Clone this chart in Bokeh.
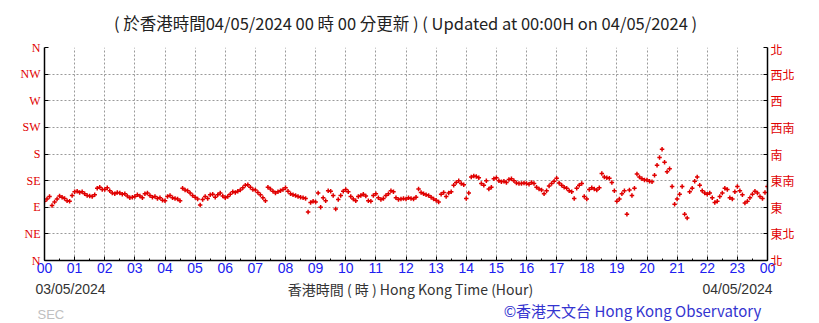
from bokeh.plotting import figure
from bokeh.models import Range1d, LinearAxis, FixedTicker, Label
from bokeh.layouts import column
from bokeh.embed import file_html
from bokeh.resources import INLINE

# wind direction (degrees), 5-minute readings, one list per hour
h00 = [100, 104, 108, 93, 99, 104, 109, 107, 105, 101, 100, 110]
h01 = [116, 117, 115, 116, 113, 110, 109, 108, 111, 122, 124, 120]
h02 = [120, 123, 118, 114, 113, 115, 114, 112, 113, 109, 106, 107]
h03 = [108, 111, 109, 106, 113, 114, 110, 107, 108, 105, 106, 102]
h04 = [101, 108, 110, 106, 105, 104, 101, 122, 119, 118, 114, 110]
h05 = [107, 104, 94, 103, 108, 105, 111, 112, 107, 111, 114, 109]
h06 = [106, 108, 112, 116, 115, 117, 119, 123, 127, 128, 124, 120]
h07 = [119, 115, 111, 106, 101, 124, 121, 117, 114, 116, 118, 120]
h08 = [123, 117, 113, 111, 110, 108, 107, 106, 105, 82, 98, 100]
h09 = [99, 114, 90, 106, 101, 118, 117, 110, 87, 103, 110, 117]
h10 = [120, 116, 108, 104, 101, 108, 110, 112, 109, 101, 100, 110]
h11 = [113, 106, 103, 105, 110, 113, 118, 116, 106, 103, 104, 105]
h12 = [104, 106, 105, 104, 107, 121, 115, 113, 111, 110, 107, 104]
h13 = [102, 99, 112, 115, 108, 114, 116, 127, 132, 135, 130, 128]
h14 = [105, 114, 141, 143, 142, 140, 130, 127, 135, 121, 124, 138]
h15 = [140, 135, 133, 134, 132, 137, 138, 135, 131, 130, 130, 131]
h16 = [130, 129, 132, 130, 124, 121, 119, 113, 118, 126, 130, 134]
h17 = [139, 131, 127, 124, 122, 118, 116, 105, 122, 127, 130, 108]
h18 = [104, 120, 123, 121, 119, 123, 147, 141, 140, 139, 132, 118]
h19 = [100, 104, 113, 118, 78, 119, 110, 122, 146, 141, 138, 136]
h20 = [136, 134, 133, 144, 161, 174, 188, 166, 150, 155, 125, 95]
h21 = [104, 112, 125, 78, 72, 116, 122, 134, 141, 127, 118, 114]
h22 = [112, 114, 106, 98, 100, 108, 114, 122, 120, 106, 104, 116]
h23 = [125, 118, 111, 97, 100, 106, 112, 117, 114, 108, 105, 115]
h24 = [125]

hours = [h00, h01, h02, h03, h04, h05, h06, h07, h08, h09, h10, h11,
         h12, h13, h14, h15, h16, h17, h18, h19, h20, h21, h22, h23, h24]

hour_labels = ["00", "01", "02", "03", "04", "05", "06", "07", "08", "09", "10", "11",
               "12", "13", "14", "15", "16", "17", "18", "19", "20", "21", "22", "23", "00"]
dir_ticks = [0, 45, 90, 135, 180, 225, 270, 315, 360]
dir_en = ["N", "NE", "E", "SE", "S", "SW", "W", "NW", "N"]
dir_zh = ["北", "東北", "東", "東南", "南", "西南", "西", "西北", "北"]

title_text = "( 於香港時間04/05/2024 00 時 00 分更新 ) ( Updated at 00:00H on 04/05/2024 )"
start_date = "03/05/2024"
end_date = "04/05/2024"
axis_title = "香港時間 ( 時 ) Hong Kong Time (Hour)"
credit = "©香港天文台 Hong Kong Observatory"
station = "SEC"

xs, ys = [], []
for hi, vals in enumerate(hours):
    for k, v in enumerate(vals):
        xs.append(hi + k * 5 / 60.0)
        ys.append(v)

RED = "#e00000"
W = 819


def text_fig(h):
    f = figure(width=W, height=h, output_backend="svg", toolbar_location=None,
               x_range=Range1d(0, W), y_range=Range1d(0, h),
               x_axis_location=None, y_axis_location=None,
               min_border=0, min_border_left=0, min_border_right=0,
               min_border_top=0, min_border_bottom=0)
    if "frame_align" in f.properties():
        f.frame_align = False
    f.grid.visible = False
    f.outline_line_color = None
    return f


def lab(f, text, x, y, color, size, align="left", font="Noto Sans CJK TC"):
    f.add_layout(Label(x=x, y=y, x_units="screen", y_units="screen", text=text,
                       text_color=color, text_font_size=size, text_font=font,
                       text_align=align, text_baseline="middle"))


# top strip (title)
top = text_fig(40)
lab(top, title_text, 405, 40 - 22, "#222222", "16.5px", "center")

# main plot
p = figure(width=W, height=240, output_backend="svg", toolbar_location=None,
           x_range=Range1d(0, 24), y_range=Range1d(0, 360),
           min_border_left=44, min_border_right=52, min_border_top=7, min_border_bottom=20)
p.outline_line_color = None

p.scatter(xs, ys, marker="cross", size=4.5, line_width=1.5, color=RED)

xa = p.xaxis[0]
xa.ticker = FixedTicker(ticks=list(range(25)), minor_ticks=[i * 0.5 for i in range(49)])
xa.major_label_overrides = {i: hour_labels[i] for i in range(25)}
xa.major_tick_in = 4
xa.major_tick_out = 0
xa.minor_tick_in = 2
xa.minor_tick_out = 0
xa.axis_line_color = "black"
xa.axis_line_width = 1.5
xa.major_tick_line_color = "black"
xa.minor_tick_line_color = "black"
xa.major_label_text_color = "#2020f0"
xa.major_label_text_font = "Liberation Sans"
xa.major_label_text_font_size = "14px"
xa.major_label_standoff = 2

ya = p.yaxis[0]
ya.ticker = FixedTicker(ticks=dir_ticks, minor_ticks=[])
ya.major_label_overrides = {t: l for t, l in zip(dir_ticks, dir_en)}
ya.major_tick_in = 4
ya.major_tick_out = 0
ya.axis_line_color = "black"
ya.axis_line_width = 1.5
ya.major_label_text_color = RED
ya.major_label_text_font = "Liberation Serif"
ya.major_label_text_font_size = "12px"
ya.major_label_standoff = 4

ra = LinearAxis(ticker=FixedTicker(ticks=dir_ticks, minor_ticks=[]))
ra.major_label_overrides = {t: l for t, l in zip(dir_ticks, dir_zh)}
ra.major_tick_in = 4
ra.major_tick_out = 0
ra.axis_line_color = "black"
ra.axis_line_width = 1.5
ra.major_label_text_color = RED
ra.major_label_text_font = "Noto Sans CJK TC"
ra.major_label_text_font_size = "12px"
ra.major_label_standoff = 3
p.add_layout(ra, "right")

for g in (p.xgrid[0], p.ygrid[0]):
    g.grid_line_color = "#9a9a9a"
    g.grid_line_dash = "2 2"
    g.grid_line_width = 1
p.xgrid[0].ticker = FixedTicker(ticks=list(range(1, 24)))
p.ygrid[0].ticker = FixedTicker(ticks=dir_ticks[1:])

# bottom strip (dates, axis title, credit)
bot = text_fig(43)
lab(bot, start_date, 35, 43 - 8, "#333333", "14px", "left", "Liberation Sans")
lab(bot, axis_title, 410, 43 - 8, "#333333", "14px", "center")
lab(bot, end_date, 772, 43 - 8, "#333333", "14px", "right", "Liberation Sans")
lab(bot, credit, 632, 43 - 30, "#3434d0", "15px", "center")
lab(bot, station, 37, 43 - 34, "#c0c0c0", "13px", "left", "Liberation Sans")

layout = column(top, p, bot, spacing=0)
open("out.html", "w").write(file_html(layout, INLINE))
